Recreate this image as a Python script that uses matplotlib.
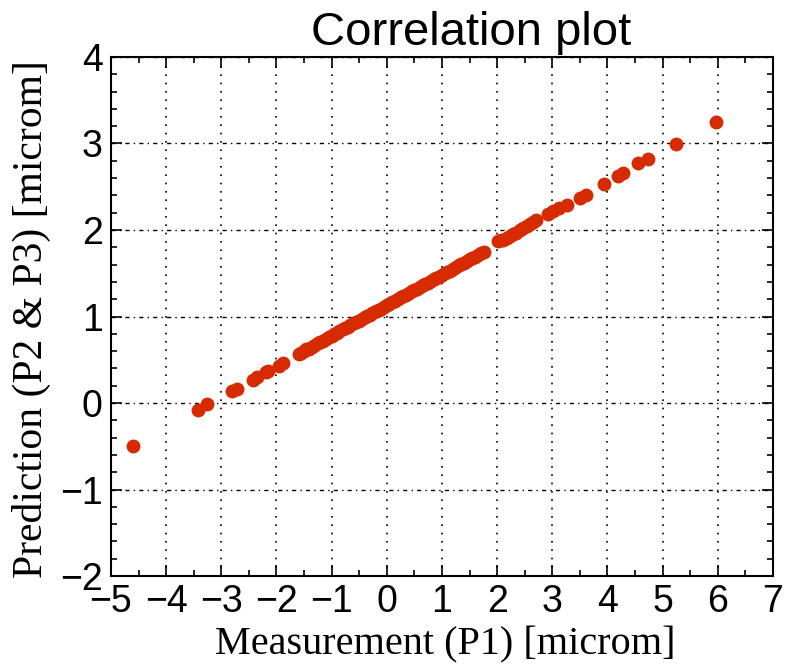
import matplotlib
matplotlib.use("Agg")
import matplotlib.pyplot as plt
from matplotlib.ticker import MultipleLocator

# measured (P1) vs predicted (P2 & P3), microns
x_meas = [-4.60, -3.42, -3.26, -2.80, -2.72, -2.43, -2.36, -2.19, -2.15, -1.96, -1.88,
          -1.60, -1.55, -1.50, -1.46, -1.41, -1.36, -1.30, -1.25, -1.21, -1.15, -1.10,
          -1.05, -1.00, -0.95, -0.90, -0.86, -0.80, -0.75, -0.70, -0.66, -0.60, -0.55,
          -0.50, -0.45, -0.40, -0.35, -0.30, -0.26, -0.20, -0.15, -0.10, -0.05, 0.00,
          0.04, 0.10, 0.15, 0.20, 0.25, 0.30, 0.35, 0.40, 0.45, 0.50, 0.55, 0.60, 0.66,
          0.70, 0.75, 0.80, 0.85, 0.90, 0.95, 1.00, 1.05, 1.10, 1.15, 1.20, 1.26, 1.30,
          1.35, 1.40, 1.45, 1.50, 1.55, 1.60, 1.65, 1.70, 1.76,
          2.02, 2.07, 2.11, 2.17, 2.23, 2.29, 2.35, 2.41, 2.47, 2.55, 2.60, 2.65, 2.71,
          2.92, 3.01, 3.13, 3.26, 3.50, 3.62, 3.94, 4.19, 4.28, 4.55, 4.73, 5.25, 5.97]
y_pred = [-0.50, -0.08, -0.01, 0.14, 0.16, 0.27, 0.30, 0.36, 0.37, 0.43, 0.46,
          0.57, 0.58, 0.60, 0.62, 0.63, 0.65, 0.67, 0.69, 0.70, 0.72, 0.74,
          0.76, 0.78, 0.80, 0.81, 0.83, 0.85, 0.87, 0.88, 0.90, 0.92, 0.94,
          0.95, 0.97, 0.99, 1.01, 1.02, 1.04, 1.06, 1.08, 1.09, 1.11, 1.13,
          1.14, 1.17, 1.18, 1.20, 1.22, 1.24, 1.25, 1.27, 1.29, 1.31, 1.32, 1.34, 1.36,
          1.38, 1.39, 1.41, 1.43, 1.45, 1.46, 1.48, 1.50, 1.52, 1.53, 1.55, 1.57, 1.59,
          1.61, 1.62, 1.64, 1.66, 1.68, 1.69, 1.71, 1.73, 1.75,
          1.87, 1.88, 1.89, 1.91, 1.93, 1.95, 1.97, 2.00, 2.02, 2.05, 2.07, 2.09, 2.11,
          2.18, 2.22, 2.26, 2.29, 2.37, 2.41, 2.53, 2.62, 2.66, 2.77, 2.82, 2.99, 3.25]

fig = plt.figure(figsize=(7.86, 6.65), dpi=100)
ax = fig.add_axes([0.1412, 0.1338, 0.8422, 0.7805])

ax.plot(x_meas, y_pred, 'o', color='#d62a00', markersize=10, markeredgewidth=0, zorder=3)

ax.set_xlim(-5, 7)
ax.set_ylim(-2, 4)
ax.xaxis.set_major_locator(MultipleLocator(1))
ax.xaxis.set_minor_locator(MultipleLocator(0.5))
ax.yaxis.set_major_locator(MultipleLocator(1))
ax.yaxis.set_minor_locator(MultipleLocator(0.2))

ax.xaxis.grid(True, color='black', linestyle=(0, (1, 4)), linewidth=1.2)
ax.yaxis.grid(True, color='black', linestyle=(0, (3, 3, 1, 3)), linewidth=1.0)

ax.tick_params(which='both', direction='in', top=True, right=True, width=1.2)
ax.tick_params(which='major', length=8, labelsize=27, pad=6)
ax.tick_params(which='minor', length=4)
for lab in ax.get_xticklabels() + ax.get_yticklabels():
    lab.set_family('Liberation Sans')
for s in ax.spines.values():
    s.set_linewidth(1.5)

fig.text(0.6, 0.933, 'Correlation plot', ha='center', va='baseline',
         fontsize=34, family='Liberation Sans')
fig.text(0.566, 0.016, 'Measurement (P1) [microm]', ha='center', va='baseline',
         fontsize=29, family='Liberation Serif')
fig.text(0.04, 0.52, 'Prediction (P2 & P3) [microm]', ha='center', va='center',
         rotation=90, fontsize=30, family='Liberation Serif')

fig.savefig('out.png', dpi=100)
